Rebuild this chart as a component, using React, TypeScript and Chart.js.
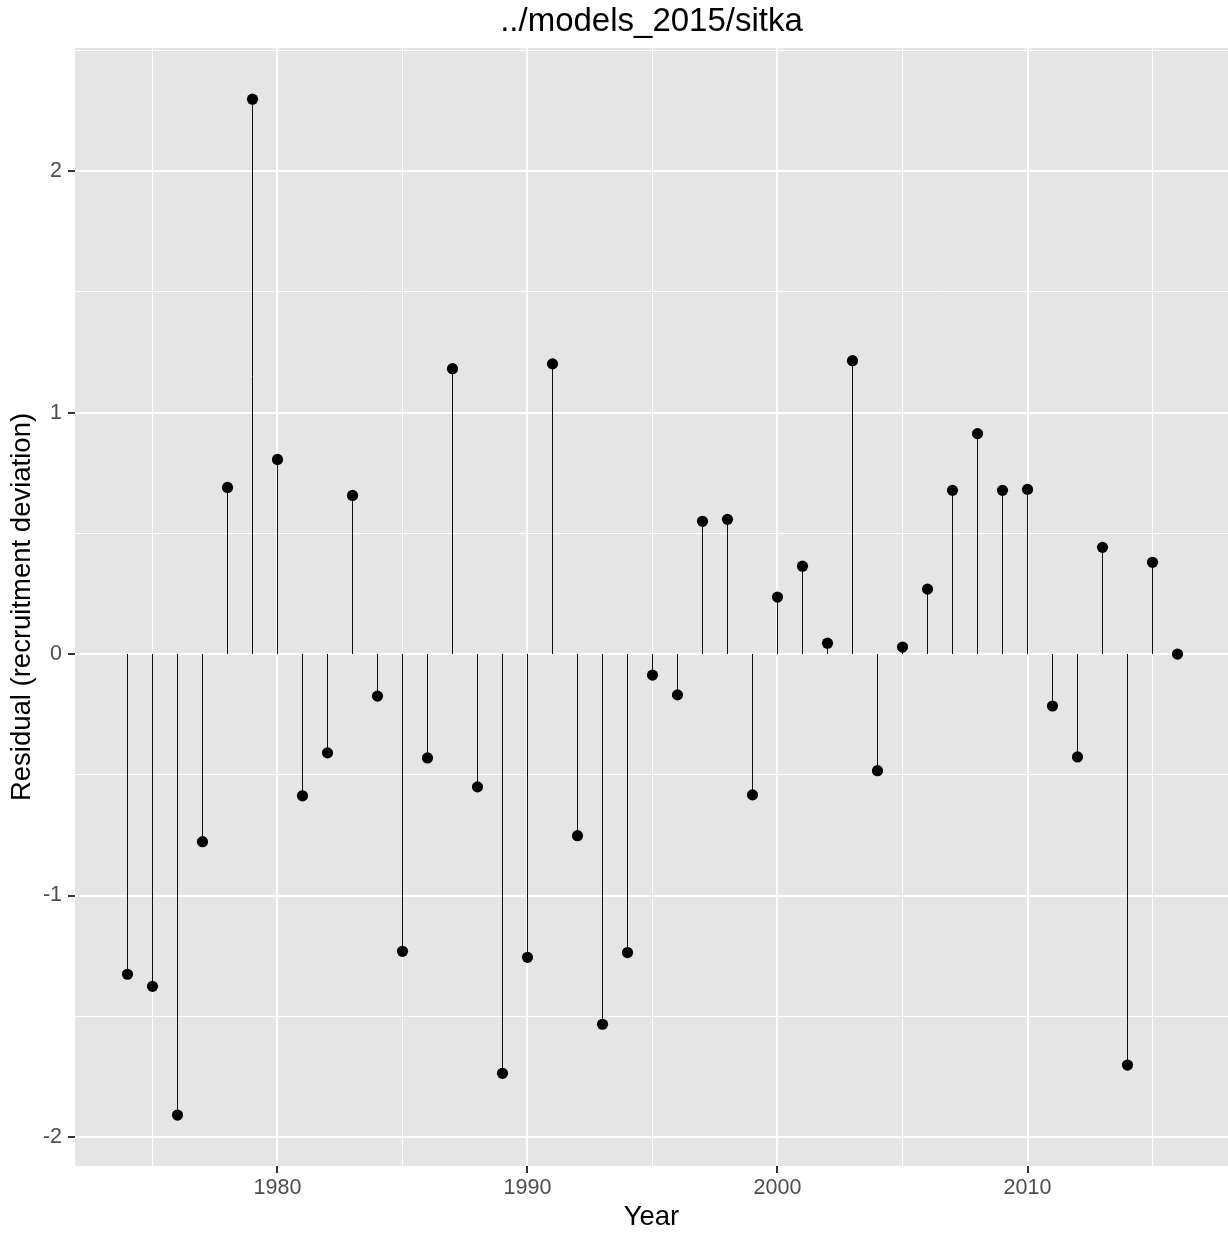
import React, { useEffect, useRef } from "react";
import { Chart, registerables } from "chart.js";

Chart.register(...registerables);

const years = [
  1974, 1975, 1976, 1977, 1978, 1979, 1980, 1981, 1982, 1983, 1984, 1985, 1986, 1987, 1988,
  1989, 1990, 1991, 1992, 1993, 1994, 1995, 1996, 1997, 1998, 1999, 2000, 2001, 2002, 2003,
  2004, 2005, 2006, 2007, 2008, 2009, 2010, 2011, 2012, 2013, 2014, 2015, 2016,
];

const residuals = [
  -1.326, -1.376, -1.909, -0.777, 0.69, 2.298, 0.806, -0.587, -0.409, 0.657, -0.174, -1.231,
  -0.43, 1.182, -0.55, -1.736, -1.256, 1.202, -0.752, -1.533, -1.236, -0.087, -0.169, 0.55,
  0.558, -0.583, 0.236, 0.364, 0.045, 1.215, -0.483, 0.029, 0.269, 0.678, 0.913, 0.678, 0.682,
  -0.215, -0.426, 0.442, -1.702, 0.38, 0.0,
];

const xMajorTicks = [1980, 1990, 2000, 2010];
const xMinorTicks = [1975, 1985, 1995, 2005, 2015];
const yMajorTicks = [-2, -1, 0, 1, 2];
const yMinorTicks = [-1.5, -0.5, 0.5, 1.5, 2.5];

const titleText = "../models_2015/sitka";
const xTitle = "Year";
const yTitle = "Residual (recruitment deviation)";

const FONT = "'Liberation Sans', Arial, Helvetica, sans-serif";

export default function App() {
  const ref = useRef<HTMLCanvasElement | null>(null);

  useEffect(() => {
    document.body.style.margin = "0";
    if (!ref.current) return;

    const points = years.map((x, i) => ({ x, y: residuals[i] }));
    const stems: { x: number; y: number | null }[] = [];
    years.forEach((x, i) => {
      stems.push({ x, y: 0 });
      stems.push({ x, y: residuals[i] });
      stems.push({ x, y: null });
    });

    const panelBg = {
      id: "panelBg",
      beforeDraw(chart: any) {
        const { ctx, chartArea } = chart;
        ctx.save();
        ctx.fillStyle = "#E5E5E5";
        ctx.fillRect(chartArea.left, chartArea.top, chartArea.right - chartArea.left, chartArea.bottom - chartArea.top);
        ctx.restore();
      },
    };

    const makeTicks = (major: number[], minor: number[]) =>
      [...major, ...minor].sort((a, b) => a - b).map((value) => ({ value }));

    const chart = new Chart(ref.current, {
      type: "scatter",
      data: {
        datasets: [
          {
            type: "scatter",
            data: points,
            backgroundColor: "#000000",
            borderColor: "#000000",
            pointRadius: 5.6,
            pointHoverRadius: 5.6,
            borderWidth: 0,
            order: 0,
          },
          {
            type: "line",
            data: stems as any,
            borderColor: "#111111",
            borderWidth: 1,
            pointRadius: 0,
            spanGaps: false,
            fill: false,
            order: 1,
          },
        ],
      },
      options: {
        animation: false,
        responsive: true,
        maintainAspectRatio: false,
        layout: { padding: 0, autoPadding: false },
        plugins: {
          legend: { display: false },
          tooltip: { enabled: false },
          title: {
            display: true,
            text: titleText,
            fullSize: false,
            color: "#000000",
            font: { family: FONT, size: 33, weight: "normal" },
            padding: { top: 2.2, bottom: 6.2 },
          },
        },
        scales: {
          x: {
            type: "linear",
            min: 1971.9,
            max: 2018.02,
            afterBuildTicks: (scale: any) => {
              scale.ticks = makeTicks(xMajorTicks, xMinorTicks);
            },
            afterFit: (scale: any) => {
              scale.height = 68;
            },
            ticks: {
              autoSkip: false,
              maxRotation: 0,
              minRotation: 0,
              padding: 2,
              color: "#4D4D4D",
              font: { family: FONT, size: 21.5 },
              callback: (v: any) => (xMajorTicks.includes(Number(v)) ? String(v) : ""),
            },
            grid: {
              color: "#FFFFFF",
              lineWidth: (ctx: any) => (xMajorTicks.includes(ctx.tick?.value) ? 2 : 1),
              drawTicks: true,
              tickLength: 7,
              tickWidth: 2,
              tickColor: (ctx: any) => (xMajorTicks.includes(ctx.tick?.value) ? "#333333" : "rgba(0,0,0,0)"),
            },
            border: { display: false },
            title: {
              display: true,
              text: xTitle,
              color: "#000000",
              font: { family: FONT, size: 27.5 },
              padding: { top: 1.5, bottom: 0 },
            },
          },
          y: {
            type: "linear",
            min: -2.12,
            max: 2.51,
            afterBuildTicks: (scale: any) => {
              scale.ticks = makeTicks(yMajorTicks, yMinorTicks);
            },
            afterFit: (scale: any) => {
              scale.width = 75;
            },
            ticks: {
              autoSkip: false,
              padding: 6,
              color: "#4D4D4D",
              font: { family: FONT, size: 21.5 },
              callback: (v: any) => (yMajorTicks.includes(Number(v)) ? String(v) : ""),
            },
            grid: {
              color: "#FFFFFF",
              lineWidth: (ctx: any) => (yMajorTicks.includes(ctx.tick?.value) ? 2 : 1),
              drawTicks: true,
              tickLength: 7,
              tickWidth: 2,
              tickColor: (ctx: any) => (yMajorTicks.includes(ctx.tick?.value) ? "#333333" : "rgba(0,0,0,0)"),
            },
            border: { display: false },
            title: {
              display: true,
              text: yTitle,
              color: "#000000",
              font: { family: FONT, size: 27.5 },
              padding: { top: 5.5, bottom: 0 },
            },
          },
        },
      } as any,
      plugins: [panelBg],
    });

    return () => chart.destroy();
  }, []);

  return (
    <div style={{ width: 1228, height: 1234, position: "relative" }}>
      <canvas ref={ref} />
    </div>
  );
}
